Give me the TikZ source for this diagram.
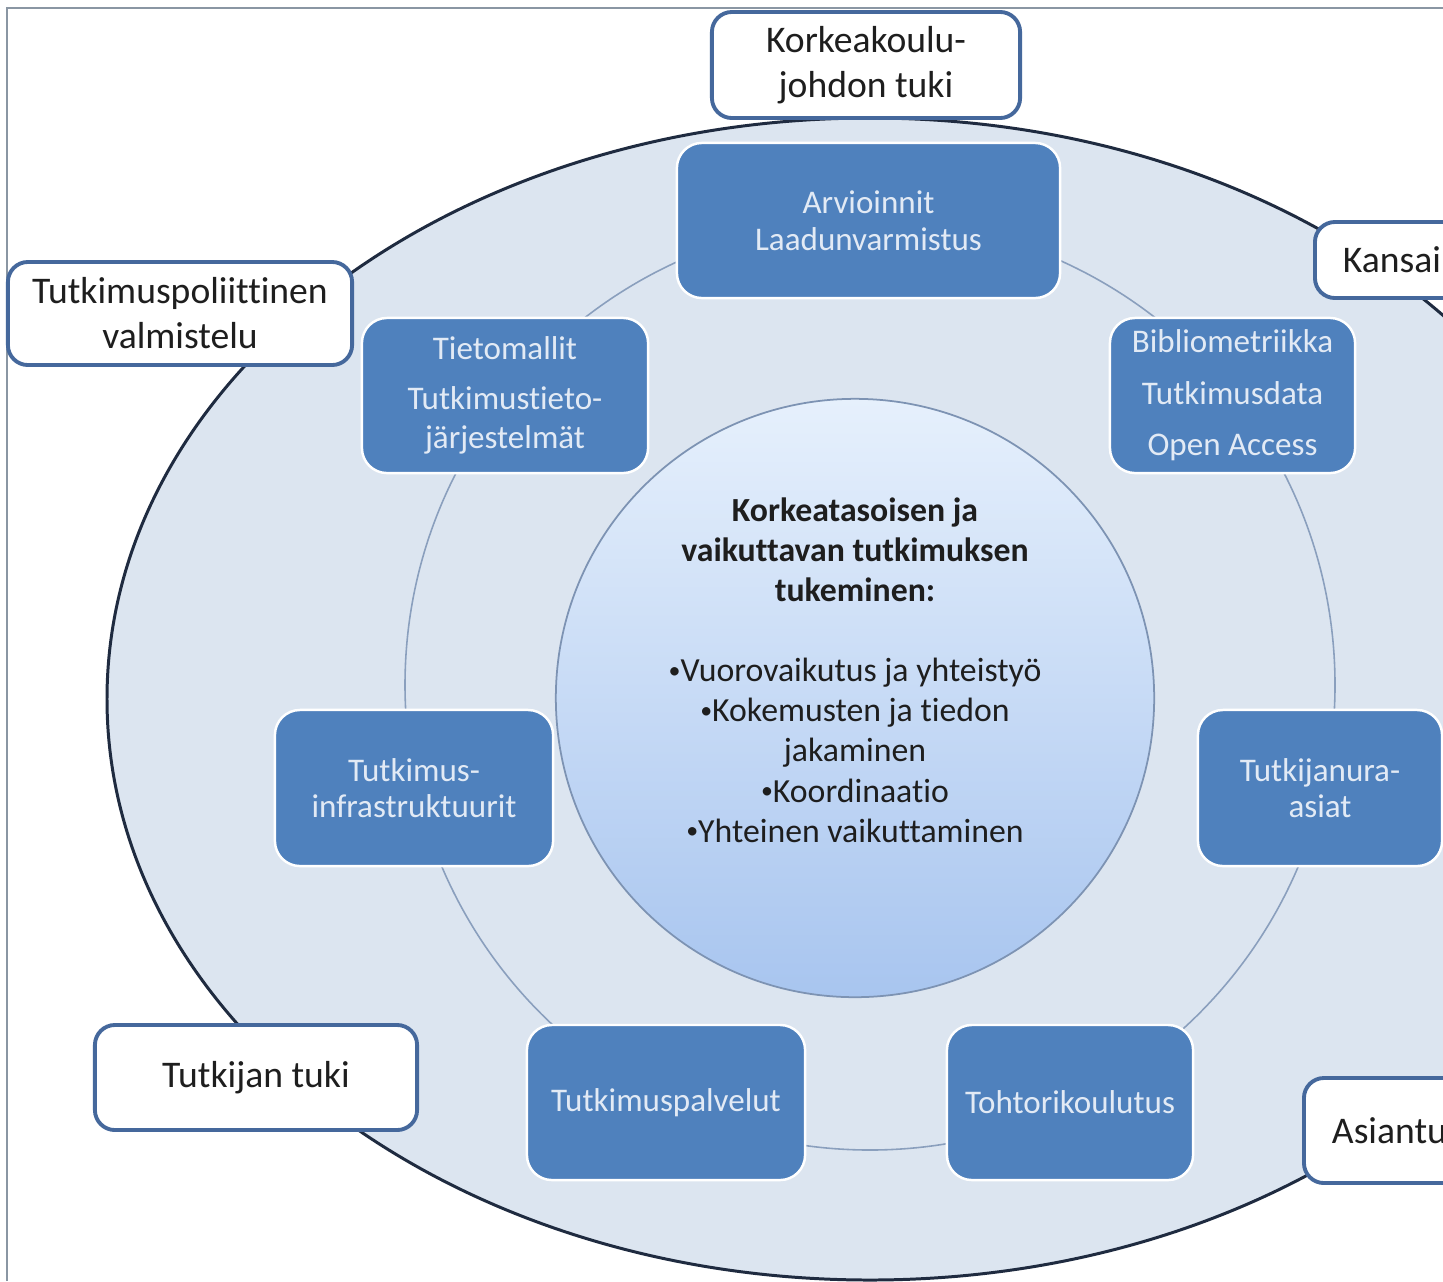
\documentclass[tikz,border=0pt]{standalone}
\usepackage{fontspec}
\setmainfont[Ligatures=NoCommon]{Carlito}
\definecolor{boxblue}{HTML}{4F81BD}
\definecolor{boxtext}{HTML}{E2EAF5}
\definecolor{wborder}{HTML}{45689C}
\definecolor{darktext}{HTML}{1E1E1E}
\definecolor{ellfill}{HTML}{DCE5F0}
\definecolor{elldark}{HTML}{1F2B40}
\definecolor{ringc}{HTML}{8A9FBD}
\definecolor{circb}{HTML}{7D93B3}
\definecolor{ctop}{HTML}{E6F0FC}
\definecolor{cmid}{HTML}{CBDDF7}
\definecolor{cbot}{HTML}{A8C5EF}
\definecolor{framegrey}{HTML}{8A96A3}
\newcommand{\mybul}{\raisebox{0.9pt}{\fontsize{6.8}{6.8}\selectfont •}}
\begin{document}
\begin{tikzpicture}[x=0.01cm,y=-0.01cm,
  bluebox/.style={rounded corners=0.25cm, fill=boxblue, draw=white, line width=0.7pt,
    text=boxtext, font=\fontsize{9.4}{10.4}\selectfont, align=center, inner sep=0pt},
  whitebox/.style={rounded corners=0.2cm, fill=white, draw=wborder, line width=1.1pt,
    text=darktext, font=\fontsize{10.7}{12.8}\selectfont, align=center, inner sep=0pt},
  cuttext/.style={align=left, inner xsep=0.28cm, inner ysep=0pt}]
\useasboundingbox (0,0) rectangle (1443,1281);
\clip (0,0) rectangle (1443,1281);
\fill[white] (0,0) rectangle (1443,1281);
\draw[framegrey, line width=0.7pt] (7,1281) -- (7,8) -- (1443,8);

% outer ellipse and ring
\filldraw[fill=ellfill, draw=elldark, line width=0.85pt] (870,699) ellipse [x radius=763, y radius=581];
\draw[ringc, line width=0.45pt] (870,685) circle [radius=465];

% central circle
\node[circle, minimum size=5.98cm, shading=axis, top color=ctop, middle color=cmid, bottom color=cbot,
      draw=circb, line width=0.5pt] (core) at (855,698) {};
\node[align=center, text=darktext, font=\fontsize{9.6}{11.4}\selectfont] (coretext) at (855,670)
  {\textbf{Korkeatasoisen ja}\\\textbf{vaikuttavan tutkimuksen}\\\textbf{tukeminen:}\\[11.4pt]
   \mybul Vuorovaikutus ja yhteistyö\\\mybul Kokemusten ja tiedon\\jakaminen\\\mybul Koordinaatio\\\mybul Yhteinen vaikuttaminen};

% blue boxes
\node[bluebox, minimum width=3.83cm, minimum height=1.55cm] (arv) at (868.5,220.5)
  {Arvioinnit\\Laadunvarmistus};
\node[bluebox, minimum width=2.86cm, minimum height=1.55cm, font=\fontsize{9.4}{11.1}\selectfont] (tieto) at (505,395.5)
  {Tietomallit\\[3pt]Tutkimustieto-\\järjestelmät};
\node[bluebox, minimum width=2.45cm, minimum height=1.55cm, font=\fontsize{9.4}{14.6}\selectfont] (biblio) at (1232.5,395.5)
  {Bibliometriikka\\Tutkimusdata\\Open Access};
\node[bluebox, minimum width=2.78cm, minimum height=1.56cm] (infra) at (414,788)
  {Tutkimus-\\infrastruktuurit};
\node[bluebox, minimum width=2.44cm, minimum height=1.56cm] (ura) at (1320,788)
  {Tutkijanura-\\asiat};
\node[bluebox, minimum width=2.78cm, minimum height=1.55cm] (palv) at (666,1102.5)
  {Tutkimuspalvelut};
\node[bluebox, minimum width=2.46cm, minimum height=1.55cm] (tohtori) at (1070,1102.5)
  {Tohtorikoulutus};

% white boxes
\node[whitebox, minimum width=3.08cm, minimum height=1.06cm] (johto) at (866,65)
  {Korkeakoulu-\\johdon tuki};
\node[whitebox, minimum width=3.44cm, minimum height=1.03cm] (polit) at (180,313.5)
  {Tutkimuspoliittinen\\valmistelu};
\node[whitebox, minimum width=3.22cm, minimum height=1.05cm] (tuki) at (256,1077.5)
  {Tutkijan tuki};
\node[whitebox, cuttext, anchor=west, text width=2.44cm, minimum height=0.76cm] (kans) at (1313,260)
  {Kansain};
\node[whitebox, cuttext, anchor=west, text width=2.44cm, minimum height=1.05cm] (asian) at (1302,1130.5)
  {Asiantu};
\end{tikzpicture}
\end{document}
